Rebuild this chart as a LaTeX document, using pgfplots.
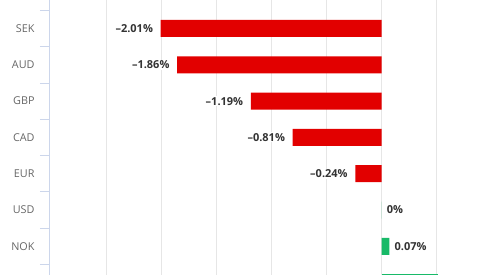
\documentclass[border=0pt]{standalone}
\usepackage{fontspec}
\setmainfont{Open Sans}
\usepackage{pgfplots}
\pgfplotsset{compat=1.18}
\definecolor{barred}{RGB}{226,0,0}
\definecolor{bargreen}{RGB}{24,186,104}
\definecolor{axisblue}{RGB}{204,214,235}
\definecolor{gridgray}{RGB}{230,230,230}
\definecolor{labgray}{RGB}{102,102,102}
\definecolor{datagray}{RGB}{51,51,51}
\begin{document}
\begin{tikzpicture}
\begin{axis}[
  name=ax,
  scale only axis,
  width=437.5pt, height=275pt,
  xmin=-3.02, xmax=0.957,
  ymin=-0.785, ymax=6.79,
  y dir=reverse,
  xbar, bar width=17pt, bar shift=0pt,
  axis x line*=bottom, axis y line*=left,
  x axis line style={draw=none},
  y axis line style={color=axisblue, line width=0.8pt},
  xtick={-2.5,-2,-1.5,-1,-0.5,0,0.5},
  xticklabels={},
  xmajorgrids,
  major grid style={color=gridgray, line width=0.8pt},
  x tick style={draw=none},
  ytick={0,1,2,3,4,5,6,7},
  yticklabels={SEK,AUD,GBP,CAD,EUR,USD,NOK,},
  y tick style={draw=none},
  yticklabel style={font=\fontsize{10.8}{12}\selectfont, text=labgray, inner sep=0pt, xshift=-10.5pt},
  extra y ticks={-0.5,0.5,1.5,2.5,3.5,4.5,5.5,6.5},
  extra y tick labels={},
  extra y tick style={ymajorgrids=false, tick align=outside, major tick length=9.5pt, y tick style={draw=axisblue, line width=0.8pt}},
  point meta=explicit symbolic,
  nodes near coords,
  every node near coord/.append style={font=\bfseries\fontsize{11}{12}\selectfont, text=datagray, fill=white, inner sep=1pt},
]
\addplot[fill=barred, draw=none, nodes near coords style={anchor=east, xshift=-6.5pt}]
  table[x=v, y=c, meta=l, row sep=\\] {
  c v l \\
  0 -2.01 {–2.01\%} \\
  1 -1.86 {–1.86\%} \\
  2 -1.19 {–1.19\%} \\
  3 -0.81 {–0.81\%} \\
  4 -0.24 {–0.24\%} \\
  };
\addplot[fill=bargreen, draw=none, nodes near coords style={anchor=west, xshift=4pt}]
  table[x=v, y=c, meta=l, row sep=\\] {
  c v l \\
  5 0 {0\%} \\
  6 0.07 {0.07\%} \\
  };
\addplot[fill=bargreen, draw=none, nodes near coords={}]
  table[x=v, y=c, meta=l, row sep=\\] {
  c v l \\
  7 0.51 {} \\
  };
\end{axis}
\pgfresetboundingbox
\path ([xshift=-49.5pt]ax.south west) rectangle (ax.north east);
\end{tikzpicture}
\end{document}
